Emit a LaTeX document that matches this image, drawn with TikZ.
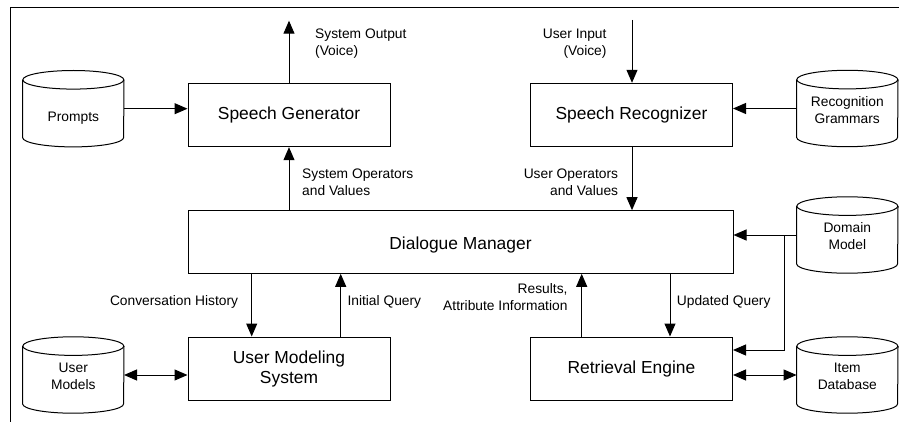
\documentclass[tikz,border=0pt]{standalone}
\usepackage{fontspec}
\setmainfont{Liberation Sans}
\usetikzlibrary{arrows.meta}
\newcommand\smallf{\fontsize{13.8}{17}\selectfont}
\newcommand\bigf{\fontsize{17.4}{20}\selectfont}
\tikzset{
  ln/.style={line width=1pt, draw=black},
  boxn/.style={ln, rectangle, minimum width=202pt, inner sep=0pt, align=center, font=\bigf},
  cylbox/.style={rectangle, minimum width=101pt, minimum height=76pt, inner sep=0pt},
  lbl/.style={font=\smallf, inner sep=0pt},
  arr/.style={ln, -{Triangle[length=13pt,width=11pt]}},
  darr/.style={ln, {Triangle[length=13pt,width=11pt]}-{Triangle[length=13pt,width=11pt]}},
}
\newcommand\cylnode[5]{%
  \node[cylbox] (#1) at (#2,#3) {};
  \draw[ln] ([yshift=-9.3pt]#1.north west) -- ([yshift=9.3pt]#1.south west)
     arc[start angle=180, end angle=360, x radius=50.5pt, y radius=9.3pt]
     -- ([yshift=-9.3pt]#1.north east);
  \draw[ln] ([yshift=-9.3pt]#1.north) ellipse[x radius=50.5pt, y radius=9.3pt];
  \node[lbl, align=center] (#1-t) at ([yshift=#5]#1.center) {#4};
}
\begin{document}
\begin{tikzpicture}[x=1pt, y=-1pt]
\useasboundingbox (0,0) rectangle (899,422);
% frame
\draw[ln] (10,422) -- (10,7.3) -- (899,7.3);

% boxes
\node[boxn, minimum height=63.4pt] (sg) at (289,115) {Speech Generator};
\node[boxn, minimum height=63.4pt] (sr) at (631.5,115) {Speech Recognizer};
\node[boxn, minimum width=545pt, minimum height=62.6pt] (dm) at (460.5,242) {};
\node[font=\bigf, inner sep=0pt] (dm-t) at (460.5,245) {Dialogue Manager};
\node[boxn, minimum height=63pt] (ums) at (289,368.5) {User Modeling\\System};
\node[boxn, minimum height=63pt] (re) at (631.5,368.5) {Retrieval Engine};

% cylinders
\cylnode{prompts}{73.3}{108.7}{Prompts}{-9.5pt}
\cylnode{gram}{847.3}{108.5}{Recognition\\Grammars}{-1.5pt}
\cylnode{domain}{847.3}{235}{Domain\\Model}{-1.5pt}
\cylnode{um}{73.3}{375}{User\\Models}{-1.5pt}
\cylnode{item}{847.3}{375}{Item\\Database}{-1pt}

% free ends
\coordinate (sgout) at (289,20.7);
\coordinate (srin) at (632,20);
\coordinate (jn) at (784,235);

% connectors
\draw[arr] (sg.north) -- (sgout);
\draw[arr] (srin) -- (srin |- sr.north);
\draw[arr] (prompts.east) -- (prompts.east -| sg.west);
\draw[arr] (gram.west) -- (gram.west -| sr.east);
\draw[arr] (sg.south |- dm.north) -- (sg.south);
\draw[arr] (srin |- sr.south) -- (srin |- dm.north);
\draw[arr] ([xshift=-37.3pt]ums.north |- dm.south) -- ([xshift=-37.3pt]ums.north);
\draw[arr] ([xshift=51.7pt]ums.north) -- ([xshift=51.7pt]ums.north |- dm.south);
\draw[arr] ([xshift=-49.8pt]re.north) -- ([xshift=-49.8pt]re.north |- dm.south);
\draw[arr] ([xshift=38.5pt]re.north |- dm.south) -- ([xshift=38.5pt]re.north);
\draw[arr] (domain.west) -- (domain.west -| dm.east);
\draw[arr] (jn) |- ([yshift=18.5pt]re.east);
\draw[darr] (um.east) -- (um.east -| ums.west);
\draw[darr] (item.west) -- (item.west -| re.east);

% labels
\node[lbl, align=left, anchor=west] (l1) at (315,43.5) {System Output\\(Voice)};
\node[lbl, align=right, anchor=east] (l2) at (606.7,43.5) {User Input\\(Voice)};
\node[lbl, align=left, anchor=west] (l3) at (302,182.5) {System Operators\\and Values};
\node[lbl, align=right, anchor=east] (l4) at (618.3,182.5) {User Operators\\and Values};
\node[lbl, anchor=east] (l5) at (238.3,301.7) {Conversation History};
\node[lbl, anchor=west] (l6) at (347.3,301.7) {Initial Query};
\node[lbl, align=right, anchor=east] (l7) at (567.7,297) {Results,\\Attribute Information};
\node[lbl, anchor=west] (l8) at (676.7,301.7) {Updated Query};
\end{tikzpicture}
\end{document}
